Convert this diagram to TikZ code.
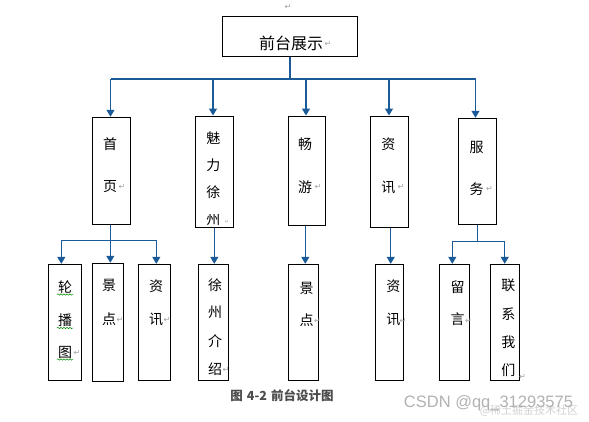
\documentclass[tikz,border=0pt]{standalone}
\usepackage{fontspec}
\newfontfamily\cjk{Noto Sans CJK SC}
\newfontfamily\symf{DejaVu Sans}
\newfontfamily\wmf{Liberation Sans}
\usetikzlibrary{arrows.meta,decorations.pathmorphing}
\definecolor{linecol}{HTML}{1B5A99}
\tikzset{
  box/.style={draw=black, line width=1.1pt, rectangle, inner sep=0pt},
  lbl/.style={inner sep=0pt, font=\cjk\fontsize{14}{14}\selectfont},
  conn/.style={draw=linecol, line width=1.2pt},
  arr/.style={conn, -{Triangle[length=7pt,width=8pt]}},
  ret/.style={inner sep=0pt, text=gray!75, font=\symf\fontsize{8}{8}\selectfont},
  wavy/.style={draw=green!55!black, line width=0.5pt, decorate, decoration={snake, segment length=3pt, amplitude=0.7pt}}
}
\begin{document}
\begin{tikzpicture}[x=1pt,y=-1pt]
\fill[white] (0,0) rectangle (589,421);
\useasboundingbox (0,0) rectangle (589,421);

% top
\node[ret] (r0) at (288,7) {↵};
\node[box, minimum width=135pt, minimum height=40pt] (top) at (290,36.3) {};
\node[inner sep=0pt, font=\cjk\fontsize{16}{16}\selectfont] (ttop) at (291,43) {前台展示};
\node[ret] (rtop) at (328,44) {↵};

% level 2 boxes
\node[box, minimum width=38.4pt, minimum height=107pt] (b1) at (111.5,170.8) {};
\node[box, minimum width=38pt, minimum height=111.3pt] (b2) at (214.3,171.7) {};
\node[box, minimum width=37pt, minimum height=109.7pt] (b3) at (306.8,170.9) {};
\node[box, minimum width=38pt, minimum height=111.3pt] (b4) at (389.3,171.7) {};
\node[box, minimum width=38pt, minimum height=106pt] (b5) at (477.7,171.3) {};

\node[lbl] (b1a) at (110,144.3) {首};
\node[lbl] (b1b) at (110,186.7) {页};
\node[ret] (b1r) at (122,187) {↵};

\node[lbl] (b2a) at (213.3,137.7) {魅};
\node[lbl] (b2b) at (213.3,165) {力};
\node[lbl] (b2c) at (213.3,191.7) {徐};
\begin{scope}
\clip (195.3,214) rectangle (233.3,226.5);
\node[lbl] (b2d) at (213.3,219) {州};
\end{scope}
\node[ret, font=\symf\fontsize{5}{5}\selectfont] (b2r) at (227,222) {↵};

\node[lbl] (b3a) at (305,144.3) {畅};
\node[lbl] (b3b) at (305,186.7) {游};
\node[ret] (b3r) at (318,187) {↵};

\node[lbl] (b4a) at (388.3,144) {资};
\node[lbl] (b4b) at (388.3,187) {讯};
\node[ret] (b4r) at (401,187) {↵};

\node[lbl] (b5a) at (476.7,147.7) {服};
\node[lbl] (b5b) at (476.7,189) {务};
\node[ret] (b5r) at (489.5,189) {↵};

% level 3 boxes
\node[box, minimum width=33.4pt, minimum height=115.7pt] (c1) at (65,322.2) {};
\node[box, minimum width=31pt, minimum height=118pt] (c2) at (107.8,322.3) {};
\node[box, minimum width=32pt, minimum height=115.7pt] (c3) at (154.3,322.2) {};
\node[box, minimum width=30.4pt, minimum height=115.7pt] (c4) at (213.5,322.2) {};
\node[box, minimum width=30pt, minimum height=115.7pt] (c5) at (303.5,322.2) {};
\node[box, minimum width=28.4pt, minimum height=115.7pt] (c6) at (389.5,322.2) {};
\node[box, minimum width=29.6pt, minimum height=115.7pt] (c7) at (454.5,322.2) {};
\node[box, minimum width=29pt, minimum height=115.7pt] (c8) at (504.8,322.2) {};

\node[lbl] (c1a) at (65,286.7) {轮};
\node[lbl] (c1b) at (65,320) {播};
\node[lbl] (c1c) at (65,352.3) {图};
\node[ret] (c1r) at (77,353) {↵};
\draw[wavy] (57,294.5) -- (73,294.5);
\draw[wavy] (57,328) -- (73,328);
\draw[wavy] (57,359.5) -- (73,359.5);

\node[lbl] (c2a) at (109,285) {景};
\node[lbl] (c2b) at (109,319.3) {点};
\node[ret] (c2r) at (120,319.5) {↵};

\node[lbl] (c3a) at (156,286.7) {资};
\node[lbl] (c3b) at (156,319.3) {讯};
\node[ret] (c3r) at (167,319.5) {↵};

\node[lbl] (c4a) at (215,285) {徐};
\node[lbl] (c4b) at (215,312.7) {州};
\node[lbl] (c4c) at (215,340.7) {介};
\node[lbl] (c4d) at (215,369) {绍};
\node[ret] (c4r) at (226,370) {↵};

\node[lbl] (c5a) at (306.7,288.3) {景};
\node[lbl] (c5b) at (306.7,320) {点};
\node[ret] (c5r) at (317.5,320.5) {↵};

\node[lbl] (c6a) at (393.3,286.7) {资};
\node[lbl] (c6b) at (393.3,319) {讯};
\node[ret] (c6r) at (403,320.5) {↵};

\node[lbl] (c7a) at (457.7,286.7) {留};
\node[lbl] (c7b) at (457.7,319.3) {言};
\node[ret] (c7r) at (468.5,320.5) {↵};

\node[lbl] (c8a) at (508.3,285) {联};
\node[lbl] (c8b) at (508.3,314.3) {系};
\node[lbl] (c8c) at (508.3,342.7) {我};
\node[lbl] (c8d) at (508.3,370) {们};
\node[ret] (c8r) at (522.5,377) {↵};

% connectors level 1 -> 2
\coordinate (bus) at (290,79);
\coordinate (a1) at (110.5,79);
\coordinate (a2) at (213,79);
\coordinate (a3) at (306,79);
\coordinate (a4) at (389,79);
\coordinate (a5) at (475.5,79);
\draw[conn] (top.south) -- (bus);
\draw[conn] (a1) -- (a5);
\draw[arr] (a1) -- (a1 |- b1.north);
\draw[arr] (a2) -- (a2 |- b2.north);
\draw[arr] (a3) -- (a3 |- b3.north);
\draw[arr] (a4) -- (a4 |- b4.north);
\draw[arr] (a5) -- (a5 |- b5.north);

% connectors level 2 -> 3
\coordinate (s1) at (110.3,240.3);
\coordinate (s1l) at (61.3,240.3);
\coordinate (s1r) at (156.3,240.3);
\draw[conn] (s1 |- b1.south) -- (s1);
\draw[conn] (s1l) -- (s1r);
\draw[arr] (s1l) -- (s1l |- c1.north);
\draw[arr] (s1) -- (s1 |- c2.north);
\draw[arr] (s1r) -- (s1r |- c3.north);

\coordinate (s2) at (214.3,230);
\draw[arr] (s2 |- b2.south) -- (s2 |- c4.north);
\coordinate (s3) at (305.3,230);
\draw[arr] (s3 |- b3.south) -- (s3 |- c5.north);
\coordinate (s4) at (390.7,230);
\draw[arr] (s4 |- b4.south) -- (s4 |- c6.north);

\coordinate (s5) at (477.3,241.3);
\coordinate (s5l) at (452.3,241.3);
\coordinate (s5r) at (504.7,241.3);
\draw[conn] (s5 |- b5.south) -- (s5);
\draw[conn] (s5l) -- (s5r);
\draw[arr] (s5l) -- (s5l |- c7.north);
\draw[arr] (s5r) -- (s5r |- c8.north);

% caption
\node[inner sep=0pt, text=black!70, font=\cjk\bfseries\fontsize{12.5}{12.5}\selectfont] (cap) at (282,396) {图\hspace{4pt}4-2\hspace{4pt}前台设计图};

% watermark
\node[inner sep=0pt, text=gray!35, font=\cjk\fontsize{11}{11}\selectfont] (wm2) at (529,411) {@稀土掘金技术社区};
\node[inner sep=0pt, text=gray!60, font=\wmf\fontsize{16.5}{16.5}\selectfont] (wm1) at (488.5,403) {CSDN @qq\_31293575};
\end{tikzpicture}
\end{document}
